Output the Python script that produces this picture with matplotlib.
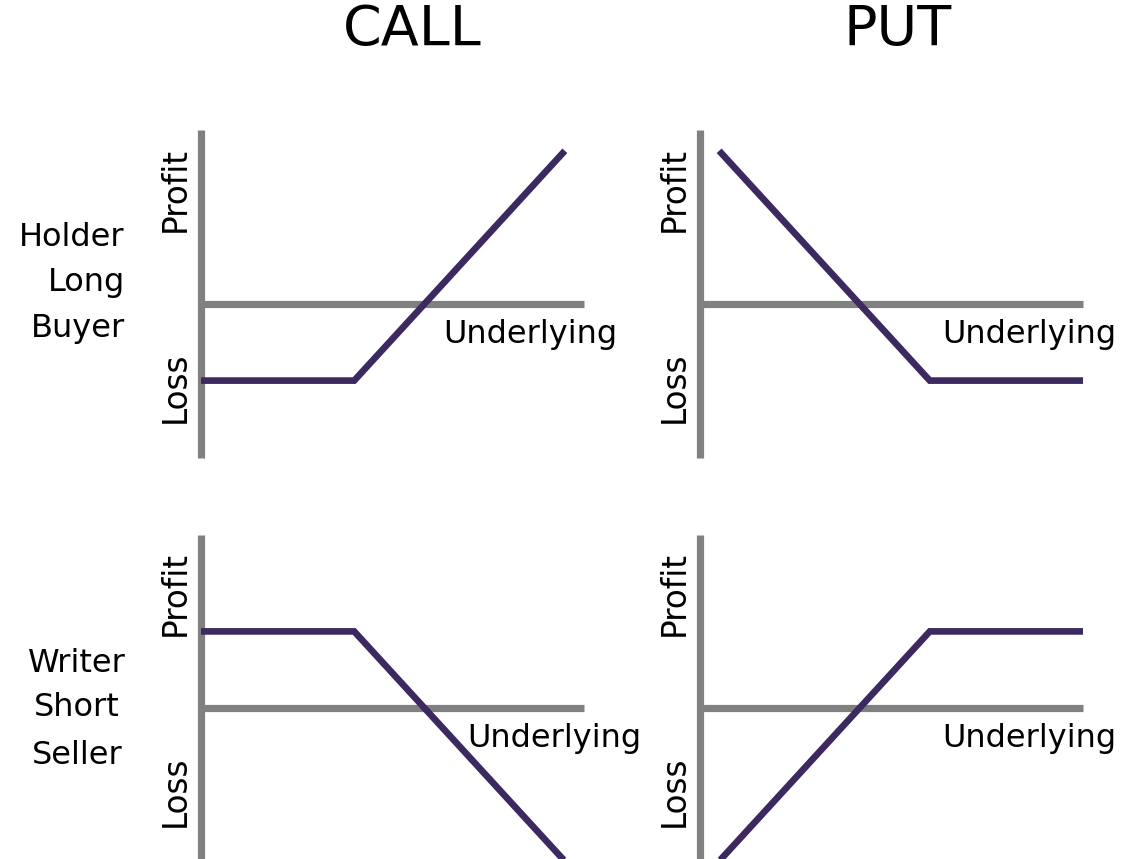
import matplotlib
matplotlib.use("Agg")
import matplotlib.pyplot as plt

# ---- data ----
col_titles = ["CALL", "PUT"]
row_labels_top = ["Holder", "Long", "Buyer"]
row_labels_bottom = ["Writer", "Short", "Seller"]
y_label_pos = "Profit"
y_label_neg = "Loss"
x_label = "Underlying"

long_call_x = [0.0, 4.0, 9.5]
long_call_y = [-2.0, -2.0, 4.0]
long_put_x = [0.5, 6.0, 10.0]
long_put_y = [4.0, -2.0, -2.0]
short_call_x = [0.0, 4.0, 9.5]
short_call_y = [2.0, 2.0, -4.0]
short_put_x = [0.5, 6.0, 10.0]
short_put_y = [-4.0, 2.0, 2.0]

W, H = 1122, 859
DPI = 100
fig = plt.figure(figsize=(W / DPI, H / DPI), dpi=DPI)
fig.patch.set_facecolor("white")

FONT = "DejaVu Sans"
GRAY = "#808080"
PURPLE = "#3b2960"
S = 38.3  # pixels per data unit
FS = 23


def make_panel(ox, oy, y_top_px, y_bot_px, xs, ys, ul_x):
    left_px, right_px = ox - 60, ox + 430
    top_px, bot_px = oy - 200, oy + 200
    ax = fig.add_axes([left_px / W, 1 - bot_px / H, (right_px - left_px) / W, (bot_px - top_px) / H])
    ax.set_xlim((left_px - ox) / S, (right_px - ox) / S)
    ax.set_ylim((oy - bot_px) / S, (oy - top_px) / S)
    ax.axis("off")
    ytop = (oy - y_top_px) / S
    ybot = (oy - y_bot_px) / S
    ax.plot([0, 0], [ybot, ytop], color=GRAY, lw=5.2, solid_capstyle="butt", clip_on=False)
    ax.plot([0, 10], [0, 0], color=GRAY, lw=5.2, solid_capstyle="butt", clip_on=False)
    ax.plot(xs, ys, color=PURPLE, lw=4.8, solid_capstyle="butt", solid_joinstyle="miter", clip_on=False)
    ax.text(-0.68, 2.98, y_label_pos, rotation=90, ha="center", va="center",
            fontsize=FS + 0.5, family=FONT)
    ax.text(-0.68, -2.17, y_label_neg, rotation=90, ha="center", va="center",
            fontsize=FS + 0.5, family=FONT)
    ax.text(ul_x, -0.8, x_label, ha="left", va="center", fontsize=FS, family=FONT)
    return ax


make_panel(201, 304, 130, 458, long_call_x, long_call_y, 6.32)
make_panel(700, 304, 130, 458, long_put_x, long_put_y, 6.32)
make_panel(201, 708, 535, 870, short_call_x, short_call_y, 6.95)
make_panel(700, 708, 535, 870, short_put_x, short_put_y, 6.32)

# titles
for t, cx in zip(col_titles, [412, 898]):
    fig.text(cx / W, 1 - 30 / H, t, ha="center", va="center", fontsize=40, family=FONT)

for lab, cy in zip(row_labels_top, [237, 283, 329]):
    fig.text(125 / W, 1 - cy / H, lab, ha="right", va="center", fontsize=FS, family=FONT)
for lab, cy in zip(row_labels_bottom, [663, 708, 755]):
    fig.text(77 / W, 1 - cy / H, lab, ha="center", va="center", fontsize=FS, family=FONT)

fig.savefig("out.png", dpi=DPI, facecolor="white")
